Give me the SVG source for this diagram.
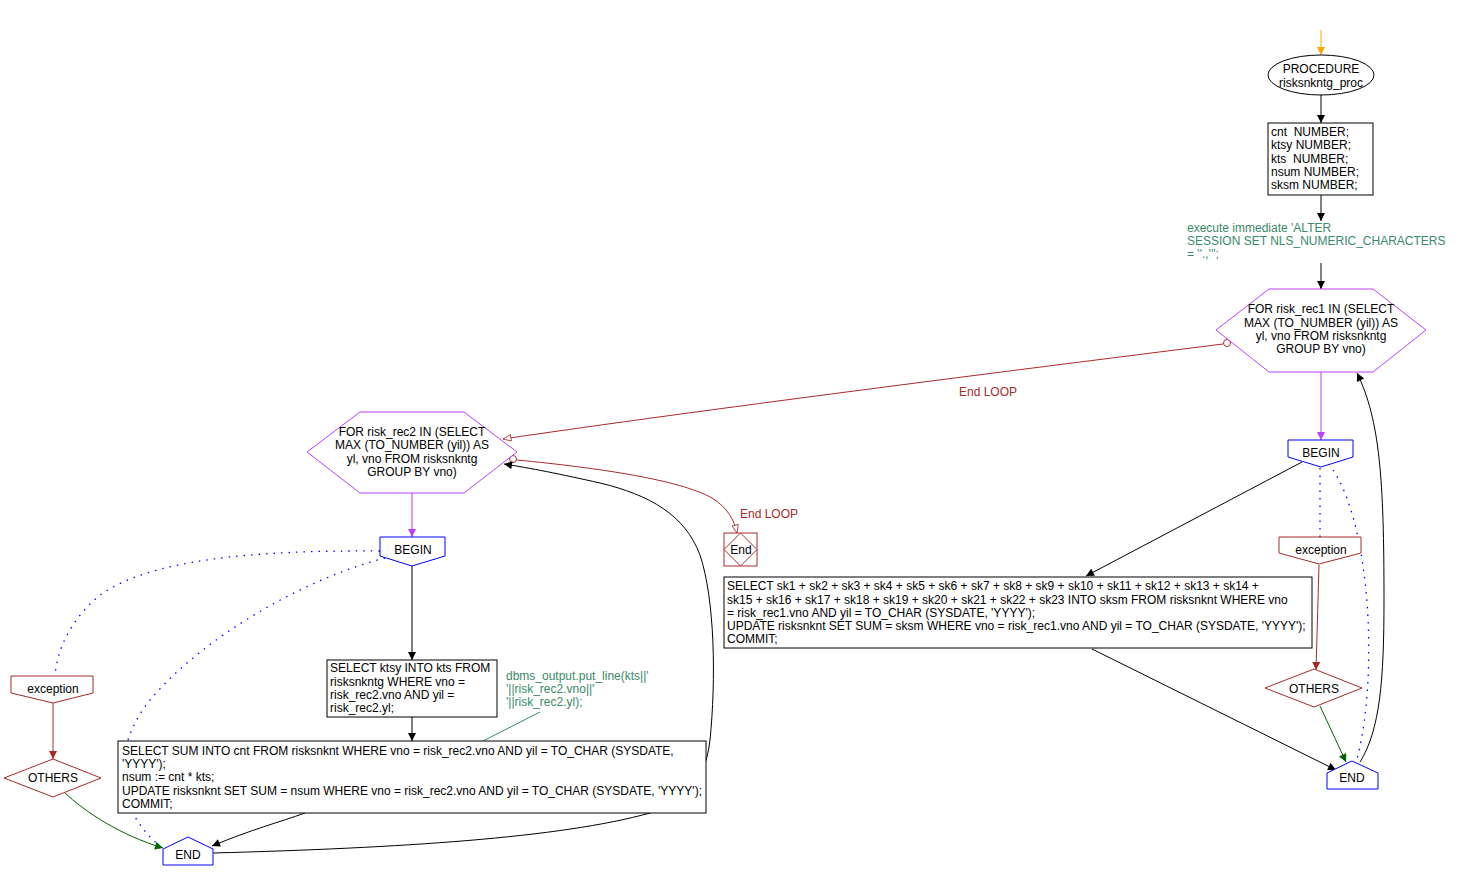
<svg xmlns="http://www.w3.org/2000/svg" width="1458" height="884" viewBox="0 0 1458 884">
<style>
text{font-family:"Liberation Sans",Arial,sans-serif;font-size:12px;fill:#000;white-space:pre}
.c{text-anchor:middle}
.cm{fill:#3a8a6a}
.lb{fill:#a52a2a}
.box{fill:#fff;stroke:#000;stroke-width:1}
.hex{fill:#fff;stroke:#bf3eff;stroke-width:1}
.blu{fill:#fff;stroke:#0000ff;stroke-width:1}
.brn{fill:#fff;stroke:#a52a2a;stroke-width:1}
.e{fill:none;stroke-width:1}
.k{stroke:#000}
.p{stroke:#bf3eff}
.r{stroke:#a52a2a}
.g{stroke:#006400}
.b{stroke:#0000ff;stroke-width:1.3;stroke-dasharray:1.5 6}
.o{stroke:#ffa500}
.gc{stroke:#3a8a6a}
</style>
<defs>
<marker id="ak" viewBox="0 0 10 10" refX="10" refY="5" markerWidth="10" markerHeight="8" markerUnits="userSpaceOnUse" orient="auto"><path d="M0,0 L10,5 L0,10 z" fill="#000"/></marker>
<marker id="ap" viewBox="0 0 10 10" refX="10" refY="5" markerWidth="10" markerHeight="8" markerUnits="userSpaceOnUse" orient="auto"><path d="M0,0 L10,5 L0,10 z" fill="#bf3eff"/></marker>
<marker id="ar" viewBox="0 0 10 10" refX="10" refY="5" markerWidth="10" markerHeight="8" markerUnits="userSpaceOnUse" orient="auto"><path d="M0,0 L10,5 L0,10 z" fill="#a52a2a"/></marker>
<marker id="ag" viewBox="0 0 10 10" refX="10" refY="5" markerWidth="10" markerHeight="8" markerUnits="userSpaceOnUse" orient="auto"><path d="M0,0 L10,5 L0,10 z" fill="#006400"/></marker>
<marker id="ao" viewBox="0 0 10 10" refX="10" refY="5" markerWidth="10" markerHeight="8" markerUnits="userSpaceOnUse" orient="auto"><path d="M0,0 L10,5 L0,10 z" fill="#ffa500"/></marker>
<marker id="aro" viewBox="0 0 12 10" refX="11" refY="5" markerWidth="11" markerHeight="8" markerUnits="userSpaceOnUse" orient="auto"><path d="M1,1 L11,5 L1,9 z" fill="#fff" stroke="#a52a2a" stroke-width="1"/></marker>
</defs>

<g id="connectors">
<path class="e o" d="M1321,30 L1321,55" marker-end="url(#ao)"/>
<path class="e k" d="M1321,95 L1321,123" marker-end="url(#ak)"/>
<path class="e k" d="M1321,195 L1321,221" marker-end="url(#ak)"/>
<path class="e k" d="M1321,263 L1321,289" marker-end="url(#ak)"/>
<path class="e p" d="M1321,372 L1321,440" marker-end="url(#ap)"/>
<path class="e k" d="M1302,462 L1086,576" marker-end="url(#ak)"/>
<path class="e b" d="M1320,468 L1320,537"/>
<path class="e b" d="M1333,470 C1360,510 1372,600 1368,680 C1366,720 1360,750 1356,762"/>
<path class="e r" d="M1319,565 L1316,670" marker-end="url(#ar)"/>
<path class="e g" d="M1320,706 L1346,762" marker-end="url(#ag)"/>
<path class="e k" d="M1092,649 L1336,770" marker-end="url(#ak)"/>
<path class="e k" d="M1360,762 C1380,730 1384,680 1384,600 C1384,480 1380,420 1357,373" marker-end="url(#ak)"/>
<path class="e r" d="M1223,344 C1000,372 700,410 503,439" marker-end="url(#aro)"/>
<circle cx="1227" cy="343" r="3.5" fill="#fff" stroke="#a52a2a"/>
<path class="e r" d="M517,460 C600,468 680,480 712,498 C728,508 734,520 737,533" marker-end="url(#aro)"/>
<circle cx="513" cy="459" r="3.5" fill="#fff" stroke="#a52a2a"/>
<path class="e k" d="M213,853 C400,848 560,838 650,813 C690,800 705,780 710,740 C716,680 715,600 700,555 C685,515 650,495 600,483 C560,474 530,468 504,464" marker-end="url(#ak)"/>
<path class="e p" d="M412,493 L412,537" marker-end="url(#ap)"/>
<path class="e k" d="M412,566 L412,660" marker-end="url(#ak)"/>
<path class="e k" d="M412,717 L412,741" marker-end="url(#ak)"/>
<path class="e gc" d="M540,712 L483,741"/>
<path class="e b" d="M380,551 C250,550 150,560 100,595 C70,620 57,650 55,676"/>
<path class="e b" d="M385,558 C300,580 200,640 150,700 C110,750 115,810 161,847"/>
<path class="e r" d="M53,703 L53,759" marker-end="url(#ar)"/>
<path class="e g" d="M64,792 C85,812 120,835 163,848" marker-end="url(#ag)"/>
<path class="e k" d="M305,813 C280,822 250,830 212,846" marker-end="url(#ak)"/>
</g>

<g id="proc">
<ellipse cx="1321" cy="75" rx="53" ry="20" class="box"/>
<text x="1321" y="73" class="c">PROCEDURE</text>
<text x="1321" y="87" class="c">risksnkntg_proc</text>
</g>

<g id="decl">
<rect x="1268" y="123" width="105" height="72" class="box"/>
<text x="1271" y="136" xml:space="preserve">cnt  NUMBER;</text>
<text x="1271" y="149">ktsy NUMBER;</text>
<text x="1271" y="163" xml:space="preserve">kts  NUMBER;</text>
<text x="1271" y="176">nsum NUMBER;</text>
<text x="1271" y="189">sksm NUMBER;</text>
</g>

<g id="exec">
<text x="1187" y="232" class="cm">execute immediate 'ALTER</text>
<text x="1187" y="245" class="cm">SESSION SET NLS_NUMERIC_CHARACTERS</text>
<text x="1187" y="258" class="cm">= ''.,''';</text>
</g>

<g id="loop1">
<polygon points="1216,330 1269,289 1373,289 1426,330 1373,372 1269,372" class="hex"/>
<text x="1321" y="313" class="c">FOR risk_rec1 IN (SELECT</text>
<text x="1321" y="327" class="c">MAX (TO_NUMBER (yil)) AS</text>
<text x="1321" y="340" class="c">yl, vno FROM risksnkntg</text>
<text x="1321" y="353" class="c">GROUP BY vno)</text>
</g>

<g id="lbl1">
<text x="959" y="396" class="lb">End LOOP</text>
</g>

<g id="begin1">
<polygon points="1288,440 1353,440 1353,457 1321,467 1288,457" class="blu"/>
<text x="1321" y="457" class="c">BEGIN</text>
</g>

<g id="exc1">
<polygon points="1279,537 1361,537 1361,553 1319,564 1279,553" class="brn"/>
<text x="1321" y="554" class="c">exception</text>
</g>

<g id="others1">
<polygon points="1265,688 1314,669 1362,688 1314,707" class="brn"/>
<text x="1314" y="693" class="c">OTHERS</text>
</g>

<g id="end1">
<polygon points="1327,773 1352,761 1378,773 1378,789 1327,789" class="blu"/>
<text x="1352" y="782" class="c">END</text>
</g>

<g id="sel1">
<rect x="724" y="577" width="588" height="71" class="box"/>
<text x="727" y="590">SELECT sk1 + sk2 + sk3 + sk4 + sk5 + sk6 + sk7 + sk8 + sk9 + sk10 + sk11 + sk12 + sk13 + sk14 +</text>
<text x="727" y="604">sk15 + sk16 + sk17 + sk18 + sk19 + sk20 + sk21 + sk22 + sk23 INTO sksm FROM risksnknt WHERE vno</text>
<text x="727" y="617">= risk_rec1.vno AND yil = TO_CHAR (SYSDATE, 'YYYY');</text>
<text x="727" y="630">UPDATE risksnknt SET SUM = sksm WHERE vno = risk_rec1.vno AND yil = TO_CHAR (SYSDATE, 'YYYY');</text>
<text x="727" y="643">COMMIT;</text>
</g>

<g id="loop2">
<polygon points="307,452 360,412 464,412 517,452 464,493 360,493" class="hex"/>
<text x="412" y="436" class="c">FOR risk_rec2 IN (SELECT</text>
<text x="412" y="449" class="c">MAX (TO_NUMBER (yil)) AS</text>
<text x="412" y="463" class="c">yl, vno FROM risksnkntg</text>
<text x="412" y="476" class="c">GROUP BY vno)</text>
</g>

<g id="lbl2">
<text x="740" y="518" class="lb">End LOOP</text>
</g>

<g id="endloop">
<rect x="724" y="533" width="33" height="33" class="brn"/>
<polygon points="740.5,533 757,549.5 740.5,566 724,549.5" class="brn"/>
<text x="741" y="554" class="c">End</text>
</g>

<g id="begin2">
<polygon points="380,537 445,537 445,556 412,566 380,556" class="blu"/>
<text x="413" y="554" class="c">BEGIN</text>
</g>

<g id="sel2">
<rect x="327" y="660" width="170" height="57" class="box"/>
<text x="330" y="672">SELECT ktsy INTO kts FROM</text>
<text x="330" y="686">risksnkntg WHERE vno =</text>
<text x="330" y="699">risk_rec2.vno AND yil =</text>
<text x="330" y="712">risk_rec2.yl;</text>
</g>

<g id="dbms">
<text x="506" y="680" class="cm">dbms_output.put_line(kts||'</text>
<text x="506" y="693" class="cm">'||risk_rec2.vno||'</text>
<text x="506" y="706" class="cm">'||risk_rec2.yl);</text>
</g>

<g id="sel3">
<rect x="118" y="741" width="588" height="72" class="box"/>
<text x="122" y="755">SELECT SUM INTO cnt FROM risksnknt WHERE vno = risk_rec2.vno AND yil = TO_CHAR (SYSDATE,</text>
<text x="122" y="768">'YYYY');</text>
<text x="122" y="781">nsum := cnt * kts;</text>
<text x="122" y="795">UPDATE risksnknt SET SUM = nsum WHERE vno = risk_rec2.vno AND yil = TO_CHAR (SYSDATE, 'YYYY');</text>
<text x="122" y="808">COMMIT;</text>
</g>

<g id="exc2">
<polygon points="11,676 93,676 93,693 53,703 11,693" class="brn"/>
<text x="53" y="693" class="c">exception</text>
</g>

<g id="others2">
<polygon points="4,778 53,759 101,778 53,797" class="brn"/>
<text x="53" y="782" class="c">OTHERS</text>
</g>

<g id="end2">
<polygon points="163,849 188,837 213,849 213,865 163,865" class="blu"/>
<text x="188" y="859" class="c">END</text>
</g>
</svg>
